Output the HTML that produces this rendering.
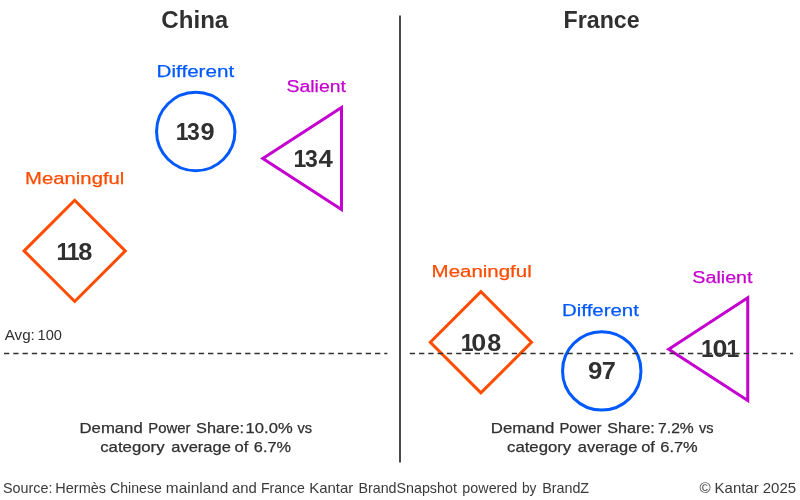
<!DOCTYPE html>
<html><head><meta charset="utf-8"><title>Chart</title>
<style>
html,body{margin:0;padding:0;background:#fff;}
body{width:800px;height:500px;overflow:hidden;}
svg{display:block;font-family:"Liberation Sans",sans-serif;}
.t{font-weight:bold;font-size:23px;fill:#303030;}
.n{font-weight:bold;font-size:23px;fill:#303030;}
.l{font-size:17.3px;stroke-width:0.25px;}
.d{font-size:15px;fill:#303030;stroke:#303030;stroke-width:0.25px;}
.s{font-size:14.5px;fill:#3a3a3a;}
.a{font-size:14.5px;fill:#303030;}
</style></head><body>
<svg width="800" height="500" viewBox="0 0 800 500">
<rect width="800" height="500" fill="#fff"/>
<line x1="400" y1="15.5" x2="400" y2="462.6" stroke="#363636" stroke-width="1.8"/>

<circle cx="195.75" cy="131.5" r="39.2" fill="none" stroke="#0059ff" stroke-width="3"/>
<polygon points="262.8,158.5 341.5,107.5 341.5,209.5" fill="none" stroke="#c400d0" stroke-width="3"/>
<polygon points="24.1,250.9 74.7,200.3 125.3,250.9 74.7,301.5" fill="none" stroke="#ff4c00" stroke-width="3"/>
<polygon points="430.3,342.3 480.9,291.7 531.5,342.3 480.9,392.9" fill="none" stroke="#ff4c00" stroke-width="3"/>
<circle cx="601.75" cy="370.9" r="39.2" fill="none" stroke="#0059ff" stroke-width="3"/>
<polygon points="668.7,349.3 747.75,297.8 747.75,400.4" fill="none" stroke="#c400d0" stroke-width="3"/>

<line x1="4" y1="353.5" x2="387.3" y2="353.5" stroke="#303030" stroke-width="1.5" stroke-dasharray="5.3,3.975"/>
<line x1="409.75" y1="353.5" x2="793.1" y2="353.5" stroke="#303030" stroke-width="1.5" stroke-dasharray="5.3,3.975"/>

<text id="t1" class="t" y="27.75"><tspan id="t1_0" x="161.36" textLength="66.89" lengthAdjust="spacingAndGlyphs">China</tspan></text>
<text id="t2" class="t" y="27.5"><tspan id="t2_0" x="563.60" textLength="76.08" lengthAdjust="spacingAndGlyphs">France</tspan></text>
<text id="l1" class="l" y="77" fill="#0059ff" stroke="#0059ff"><tspan id="l1_0" x="156.60" textLength="77.54" lengthAdjust="spacingAndGlyphs">Different</tspan></text>
<text id="n1" class="n" y="140"><tspan id="n1_0" x="175.79" textLength="12.79" lengthAdjust="spacingAndGlyphs">1</tspan><tspan id="n1_1" x="186.95" textLength="12.79" lengthAdjust="spacingAndGlyphs">3</tspan><tspan id="n1_2" x="200.62" textLength="14.10" lengthAdjust="spacingAndGlyphs">9</tspan></text>
<text id="l2" class="l" y="91.5" fill="#c400d0" stroke="#c400d0"><tspan id="l2_0" x="286.56" textLength="59.37" lengthAdjust="spacingAndGlyphs">Salient</tspan></text>
<text id="n2" class="n" y="166.7"><tspan id="n2_0" x="293.51" textLength="12.79" lengthAdjust="spacingAndGlyphs">1</tspan><tspan id="n2_1" x="304.95" textLength="12.79" lengthAdjust="spacingAndGlyphs">3</tspan><tspan id="n2_2" x="318.50" textLength="14.31" lengthAdjust="spacingAndGlyphs">4</tspan></text>
<text id="l3" class="l" y="184.3" fill="#ff4c00" stroke="#ff4c00"><tspan id="l3_0" x="25.13" textLength="99.24" lengthAdjust="spacingAndGlyphs">Meaningful</tspan></text>
<text id="n3" class="n" y="259.7"><tspan id="n3_0" x="56.58" textLength="12.79" lengthAdjust="spacingAndGlyphs">1</tspan><tspan id="n3_1" x="66.82" textLength="12.79" lengthAdjust="spacingAndGlyphs">1</tspan><tspan id="n3_2" x="78.39" textLength="14.13" lengthAdjust="spacingAndGlyphs">8</tspan></text>
<text id="avg" class="a" y="340"><tspan id="avg_0" x="4.72" textLength="30.12" lengthAdjust="spacingAndGlyphs">Avg:</tspan> <tspan id="avg_1" x="37.50" textLength="24.40" lengthAdjust="spacingAndGlyphs">100</tspan></text>
<text id="l4" class="l" y="276.7" fill="#ff4c00" stroke="#ff4c00"><tspan id="l4_0" x="431.60" textLength="100.13" lengthAdjust="spacingAndGlyphs">Meaningful</tspan></text>
<text id="n4" class="n" y="351.2"><tspan id="n4_0" x="460.73" textLength="12.79" lengthAdjust="spacingAndGlyphs">1</tspan><tspan id="n4_1" x="471.32" textLength="14.97" lengthAdjust="spacingAndGlyphs">0</tspan><tspan id="n4_2" x="487.28" textLength="13.98" lengthAdjust="spacingAndGlyphs">8</tspan></text>
<text id="l5" class="l" y="316" fill="#0059ff" stroke="#0059ff"><tspan id="l5_0" x="562.03" textLength="76.89" lengthAdjust="spacingAndGlyphs">Different</tspan></text>
<text id="n5" class="n" y="379.1"><tspan id="n5_0" x="588.00" textLength="14.35" lengthAdjust="spacingAndGlyphs">9</tspan><tspan id="n5_1" x="601.77" textLength="14.10" lengthAdjust="spacingAndGlyphs">7</tspan></text>
<text id="l6" class="l" y="282.5" fill="#c400d0" stroke="#c400d0"><tspan id="l6_0" x="692.39" textLength="60.11" lengthAdjust="spacingAndGlyphs">Salient</tspan></text>
<text id="n6" class="n" y="357.25"><tspan id="n6_0" x="701.09" textLength="12.79" lengthAdjust="spacingAndGlyphs">1</tspan><tspan id="n6_1" x="712.51" textLength="14.96" lengthAdjust="spacingAndGlyphs">0</tspan><tspan id="n6_2" x="726.51" textLength="12.79" lengthAdjust="spacingAndGlyphs">1</tspan></text>
<text id="d1" class="d" y="432.8"><tspan id="d1_0" x="79.50" textLength="63.24" lengthAdjust="spacingAndGlyphs">Demand</tspan> <tspan id="d1_1" x="148.23" textLength="42.34" lengthAdjust="spacingAndGlyphs">Power</tspan> <tspan id="d1_2" x="196.11" textLength="47.96" lengthAdjust="spacingAndGlyphs">Share:</tspan> <tspan id="d1_3" x="245.62" textLength="47.04" lengthAdjust="spacingAndGlyphs">10.0%</tspan> <tspan id="d1_4" x="297.58" textLength="14.59" lengthAdjust="spacingAndGlyphs">vs</tspan></text>
<text id="d2" class="d" y="452.2"><tspan id="d2_0" x="100.19" textLength="64.37" lengthAdjust="spacingAndGlyphs">category</tspan> <tspan id="d2_1" x="171.33" textLength="59.50" lengthAdjust="spacingAndGlyphs">average</tspan> <tspan id="d2_2" x="234.50" textLength="13.80" lengthAdjust="spacingAndGlyphs">of</tspan> <tspan id="d2_3" x="253.83" textLength="37.18" lengthAdjust="spacingAndGlyphs">6.7%</tspan></text>
<text id="d3" class="d" y="432.8"><tspan id="d3_0" x="490.80" textLength="63.56" lengthAdjust="spacingAndGlyphs">Demand</tspan> <tspan id="d3_1" x="559.46" textLength="41.95" lengthAdjust="spacingAndGlyphs">Power</tspan> <tspan id="d3_2" x="607.36" textLength="47.46" lengthAdjust="spacingAndGlyphs">Share:</tspan> <tspan id="d3_3" x="658.08" textLength="35.71" lengthAdjust="spacingAndGlyphs">7.2%</tspan> <tspan id="d3_4" x="698.88" textLength="14.56" lengthAdjust="spacingAndGlyphs">vs</tspan></text>
<text id="d4" class="d" y="452.2"><tspan id="d4_0" x="507.06" textLength="64.19" lengthAdjust="spacingAndGlyphs">category</tspan> <tspan id="d4_1" x="577.80" textLength="59.53" lengthAdjust="spacingAndGlyphs">average</tspan> <tspan id="d4_2" x="641.15" textLength="13.69" lengthAdjust="spacingAndGlyphs">of</tspan> <tspan id="d4_3" x="660.25" textLength="37.47" lengthAdjust="spacingAndGlyphs">6.7%</tspan></text>
<text id="s1" class="s" y="493.3"><tspan id="s1_0" x="2.99" textLength="49.46" lengthAdjust="spacingAndGlyphs">Source:</tspan> <tspan id="s1_1" x="55.34" textLength="50.72" lengthAdjust="spacingAndGlyphs">Hermès</tspan> <tspan id="s1_2" x="110.08" textLength="51.70" lengthAdjust="spacingAndGlyphs">Chinese</tspan> <tspan id="s1_3" x="165.88" textLength="62.45" lengthAdjust="spacingAndGlyphs">mainland</tspan> <tspan id="s1_4" x="232.07" textLength="24.81" lengthAdjust="spacingAndGlyphs">and</tspan> <tspan id="s1_5" x="260.90" textLength="44.03" lengthAdjust="spacingAndGlyphs">France</tspan> <tspan id="s1_6" x="309.20" textLength="43.99" lengthAdjust="spacingAndGlyphs">Kantar</tspan> <tspan id="s1_7" x="358.44" textLength="98.42" lengthAdjust="spacingAndGlyphs">BrandSnapshot</tspan> <tspan id="s1_8" x="462.37" textLength="54.94" lengthAdjust="spacingAndGlyphs">powered</tspan> <tspan id="s1_9" x="521.93" textLength="14.51" lengthAdjust="spacingAndGlyphs">by</tspan> <tspan id="s1_10" x="542.18" textLength="46.93" lengthAdjust="spacingAndGlyphs">BrandZ</tspan></text>
<text id="s2" class="s" y="493.3"><tspan id="s2_0" x="699.47" textLength="11.18" lengthAdjust="spacingAndGlyphs">©</tspan> <tspan id="s2_1" x="714.58" textLength="44.10" lengthAdjust="spacingAndGlyphs">Kantar</tspan> <tspan id="s2_2" x="762.70" textLength="33.40" lengthAdjust="spacingAndGlyphs">2025</tspan></text>
</svg>
</body></html>
